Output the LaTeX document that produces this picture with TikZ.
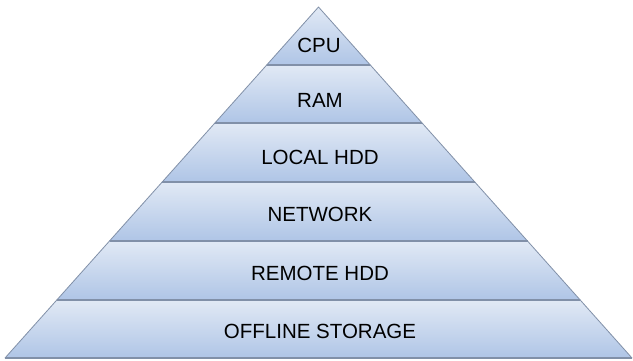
\documentclass[tikz,border=0pt]{standalone}
\usepackage{fontspec}
\setmainfont{Liberation Sans}
\definecolor{laytop}{HTML}{E1E9F5}
\definecolor{laybot}{HTML}{AFC5E6}
\definecolor{layline}{HTML}{8190A8}
\tikzset{
  layer/.style={top color=laytop, bottom color=laybot, draw=layline, line width=0.8pt, line join=round},
  sep/.style={draw=layline, line width=2pt},
  lbl/.style={font=\fontsize{20.5}{22}\selectfont, text=black, inner sep=0pt}
}
\begin{document}
\begin{tikzpicture}[x=1pt,y=-1pt]
\useasboundingbox[fill=white] (0,0) rectangle (633,360);
% layers
\shade[layer] (318.5,7) -- (370.3,65) -- (266.7,65) -- cycle;
\shade[layer] (266.7,65) -- (370.3,65) -- (422.1,123) -- (214.9,123) -- cycle;
\shade[layer] (214.9,123) -- (422.1,123) -- (474.8,182) -- (162.2,182) -- cycle;
\shade[layer] (162.2,182) -- (474.8,182) -- (527.5,241) -- (109.5,241) -- cycle;
\shade[layer] (109.5,241) -- (527.5,241) -- (580.2,300) -- (56.8,300) -- cycle;
\shade[layer] (56.8,300) -- (580.2,300) -- (632,358) -- (5,358) -- cycle;
% separators
\draw[sep] (266.7,65) -- (370.3,65);
\draw[sep] (214.9,123) -- (422.1,123);
\draw[sep] (162.2,182) -- (474.8,182);
\draw[sep] (109.5,241) -- (527.5,241);
\draw[sep] (56.8,300) -- (580.2,300);
\draw[sep] (5,358) -- (632,358);
% labels
\node[lbl] (cpu) at (319,45) {CPU};
\node[lbl] (ram) at (320,100) {RAM};
\node[lbl] (local) at (320,157) {LOCAL HDD};
\node[lbl] (net) at (320,214) {NETWORK};
\node[lbl] (remote) at (320,273) {REMOTE HDD};
\node[lbl] (offline) at (320,331) {OFFLINE STORAGE};
\end{tikzpicture}
\end{document}
